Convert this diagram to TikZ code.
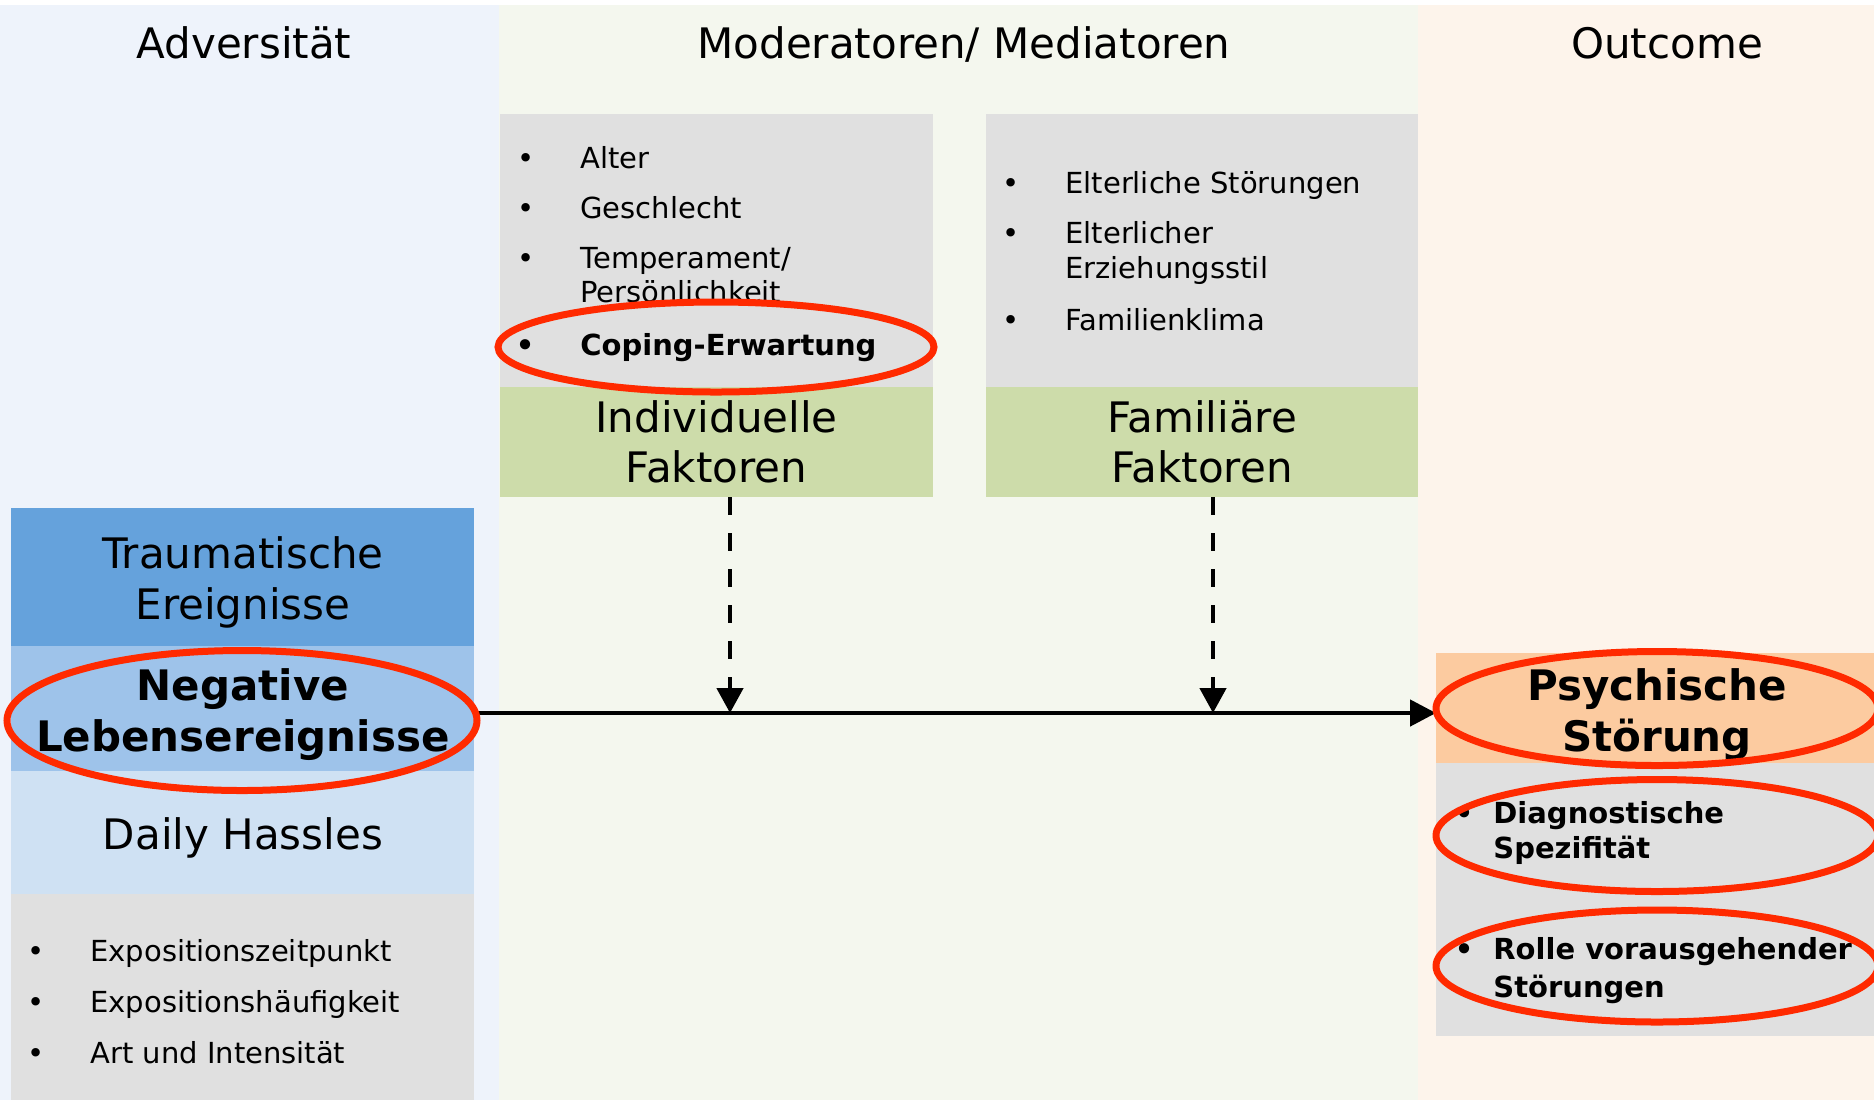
\documentclass[tikz,border=0pt]{standalone}
\usepackage{fontspec}
\setmainfont{DejaVu Sans}
\usetikzlibrary{arrows.meta}

\definecolor{advbg}{HTML}{EEF3FB}
\definecolor{modbg}{HTML}{F4F7EE}
\definecolor{outbg}{HTML}{FDF4EB}
\definecolor{listgray}{HTML}{E0E0E0}
\definecolor{factgreen}{HTML}{CDDCAA}
\definecolor{traumablue}{HTML}{65A2DC}
\definecolor{negblue}{HTML}{9EC3EA}
\definecolor{dailyblue}{HTML}{CFE1F3}
\definecolor{peach}{HTML}{FCCBA0}
\definecolor{markred}{HTML}{FF2A00}

\newcommand{\itembullet}[1][23pt]{\llap{\textbullet\hspace{#1}}}

\tikzset{
  panel/.style={anchor=north west, inner sep=0pt, outer sep=0pt},
  head/.style={anchor=base, inner sep=0pt, font=\fontsize{21}{25}\selectfont},
  boldhead/.style={head, font=\fontsize{21}{25}\selectfont\bfseries},
  factor/.style={panel, fill=factgreen, minimum width=216.5pt, minimum height=55pt,
    align=center, font=\fontsize{21}{25}\selectfont},
  event/.style={panel, minimum width=231.5pt},
  item/.style={anchor=base west, inner sep=0pt, font=\fontsize{14.5}{17}\selectfont},
  bolditem/.style={item, font=\fontsize{14.5}{17}\selectfont\bfseries},
  ring/.style={draw=markred, line width=3.5pt},
  flow/.style={line width=2.3pt, -{Triangle[length=13pt,width=13pt]}},
  modflow/.style={line width=2.3pt, dash pattern=on 9pt off 9pt, -{Triangle[length=12.5pt,width=13pt]}},
}

\begin{document}
\begin{tikzpicture}[x=0.5pt,y=-0.5pt]
    \useasboundingbox (0,0) rectangle (1874,1100);

    % columns
    \fill[advbg] (0,5) rectangle (499,1100);
    \fill[modbg] (499,5) rectangle (1418,1100);
    \fill[outbg] (1418,5) rectangle (1874,1100);

    \node[head] (advtitle) at (244,58) {Adversität};
    \node[head] (modtitle) at (964,58) {Moderatoren/ Mediatoren};
    \node[head] (outtitle) at (1667,58) {Outcome};

    % adversity
    \node[event, fill=traumablue, minimum height=69pt] (trauma) at (11,508) {};
    \node[event, fill=negblue, minimum height=62.5pt] (negative) at (11,646) {};
    \node[event, fill=dailyblue, minimum height=61.5pt] (daily) at (11,771) {};
    \node[event, fill=listgray, minimum height=103pt] (advlist) at (11,894) {};

    \node[head] (trauma1) at (243,568) {Traumatische};
    \node[head] (trauma2) at (243,619) {Ereignisse};
    \node[boldhead] (neg1) at (243,700) {Negative};
    \node[boldhead] (neg2) at (243,751) {Lebensereignisse};
    \node[head] (dailytxt) at (243,849) {Daily Hassles};

    \node[item] (zeit) at (90,961) {\itembullet Expositionszeitpunkt};
    \node[item] (haeuf) at (90,1012) {\itembullet Expositionshäufigkeit};
    \node[item] (art) at (90,1063) {\itembullet Art und Intensität};

    % moderators
    \node[panel, fill=listgray, minimum width=216.5pt, minimum height=136.5pt] (indlist) at (500,114) {};
    \node[factor] (indfactor) at (500,387) {Individuelle\\Faktoren};
    \node[panel, fill=listgray, minimum width=216pt, minimum height=136.5pt] (famlist) at (986,114) {};
    \node[factor, minimum width=216pt] (famfactor) at (986,387) {Familiäre\\Faktoren};

    \node[item] (alter) at (580,168) {\itembullet Alter};
    \node[item] (geschl) at (580,218) {\itembullet Geschlecht};
    \node[item] (temp) at (580,268) {\itembullet Temperament/};
    \node[item] (pers) at (580,302) {Persönlichkeit};
    \node[bolditem] (coping) at (580,355) {\itembullet Coping-Erwartung};

    \node[item] (elstoer) at (1065,193) {\itembullet Elterliche Störungen};
    \node[item] (elstil) at (1065,243) {\itembullet Elterlicher};
    \node[item] (erz) at (1065,278) {Erziehungsstil};
    \node[item] (klima) at (1065,330) {\itembullet Familienklima};

    % outcome
    \node[panel, fill=peach, minimum width=219pt, minimum height=55pt] (psych) at (1436,653) {};
    \node[panel, fill=listgray, minimum width=219pt, minimum height=136.5pt] (outlist) at (1436,763) {};

    \node[boldhead] (psych1) at (1657,700) {Psychische};
    \node[boldhead] (psych2) at (1657,751) {Störung};

    \node[bolditem] (diag) at (1493,823) {\itembullet[10pt]Diagnostische};
    \node[bolditem] (spez) at (1493,858) {Spezifität};
    \node[bolditem] (rolle) at (1493,959) {\itembullet[10pt]Rolle vorausgehender};
    \node[bolditem] (vstoer) at (1493,997) {Störungen};

    % connectors
    \coordinate (joinind) at (730,713);
    \coordinate (joinfam) at (1213,713);
    \draw[flow] (negative.east |- joinind) -- (psych.west |- joinind);
    \draw[modflow] (indfactor.south -| joinind) -- (joinind);
    \draw[modflow] (famfactor.south -| joinfam) -- (joinfam);

    % highlights
    \draw[ring] (716,347) ellipse [x radius=109pt, y radius=22.5pt];
    \draw[ring] (242,720.5) ellipse [x radius=117.5pt, y radius=35pt];
    \draw[ring] (1657,708.5) ellipse [x radius=110.5pt, y radius=28.5pt];
    \draw[ring] (1657,835.5) ellipse [x radius=110.5pt, y radius=28pt];
    \draw[ring] (1657,966) ellipse [x radius=110.5pt, y radius=28pt];
\end{tikzpicture}
\end{document}
